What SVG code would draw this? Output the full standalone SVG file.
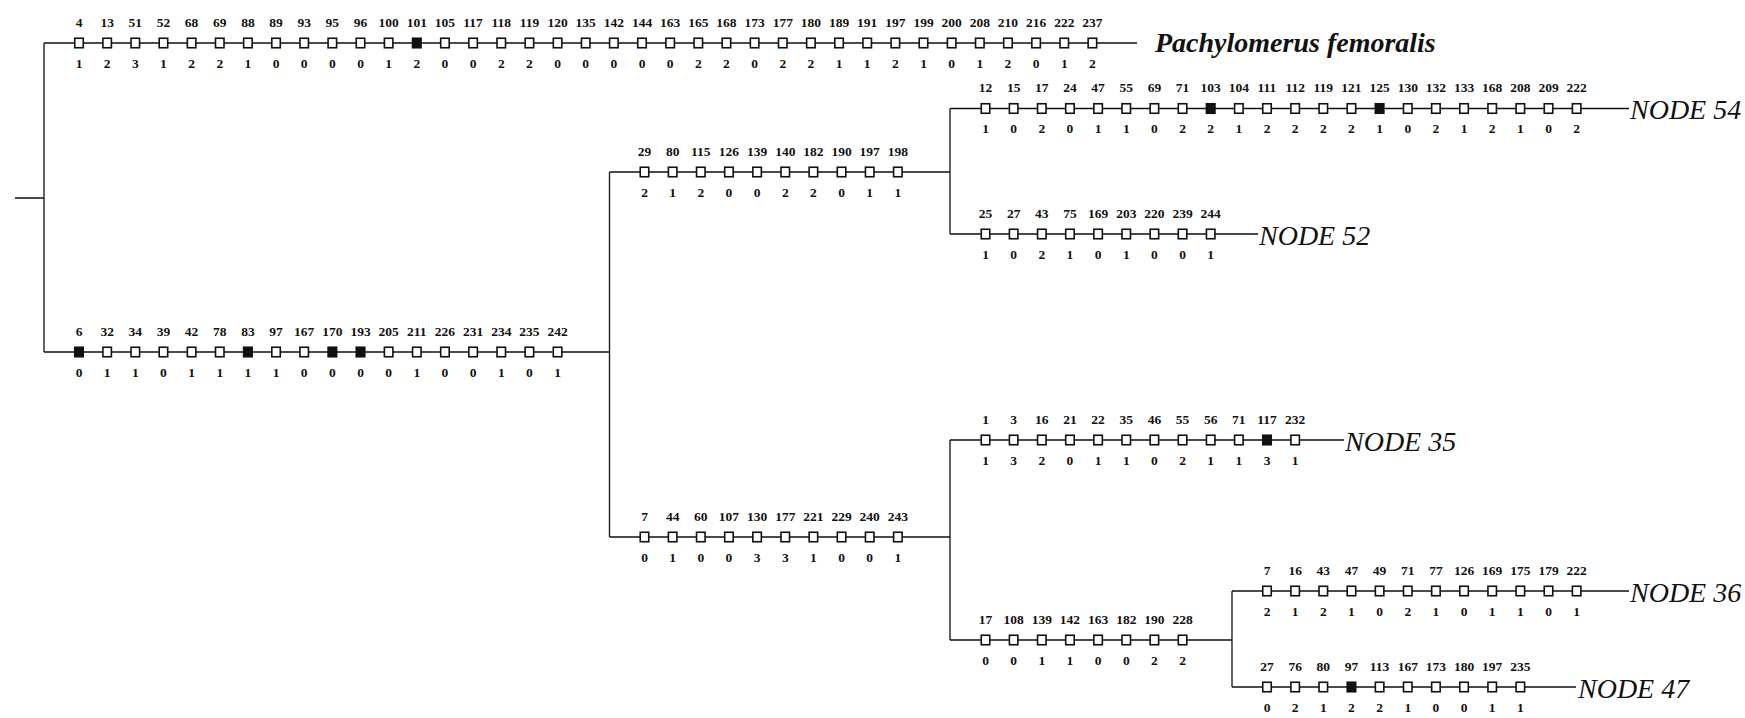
<svg xmlns="http://www.w3.org/2000/svg" xmlns:xlink="http://www.w3.org/1999/xlink" width="1745" height="718" viewBox="0 0 1745 718">
<style>
.c{stroke:#111;stroke-width:1.3;fill:none}
.l{font-family:"Liberation Serif","Times New Roman",serif;font-weight:bold;font-size:13.5px;fill:#111;text-anchor:middle}
.n{font-family:"Liberation Serif","Times New Roman",serif;font-style:italic;font-size:28px;fill:#111}
.p{font-weight:bold}
</style>
<defs>
<rect id="o" x="-4.25" y="-4.75" width="8.5" height="9.5" fill="#fff" stroke="#111" stroke-width="1.6"/>
<rect id="f" x="-4.25" y="-4.75" width="8.5" height="9.5" fill="#111" stroke="#111" stroke-width="1.6"/>
</defs>
<rect width="1745" height="718" fill="#fff"/>
<g id="connectors" class="c">
<path d="M15,198H44M44,43V352M44,43H1137M44,352H609.5M609.5,172V537M609.5,172H950M609.5,537H950M950,108.5V234M950,440V640M950,108.5H1629M950,234H1258M950,440H1344M950,640H1232M1232,591V687M1232,591H1629M1232,687H1576"/>
</g>
<g id="branch-pachylomerus">
<use xlink:href="#o" x="79" y="43"/><use xlink:href="#o" x="107.15" y="43"/><use xlink:href="#o" x="135.3" y="43"/><use xlink:href="#o" x="163.45" y="43"/><use xlink:href="#o" x="191.6" y="43"/><use xlink:href="#o" x="219.75" y="43"/><use xlink:href="#o" x="247.9" y="43"/><use xlink:href="#o" x="276.05" y="43"/><use xlink:href="#o" x="304.2" y="43"/><use xlink:href="#o" x="332.35" y="43"/><use xlink:href="#o" x="360.5" y="43"/><use xlink:href="#o" x="388.65" y="43"/><use xlink:href="#f" x="416.8" y="43"/><use xlink:href="#o" x="444.95" y="43"/><use xlink:href="#o" x="473.1" y="43"/><use xlink:href="#o" x="501.25" y="43"/><use xlink:href="#o" x="529.4" y="43"/><use xlink:href="#o" x="557.55" y="43"/><use xlink:href="#o" x="585.7" y="43"/><use xlink:href="#o" x="613.85" y="43"/><use xlink:href="#o" x="642" y="43"/><use xlink:href="#o" x="670.15" y="43"/><use xlink:href="#o" x="698.3" y="43"/><use xlink:href="#o" x="726.45" y="43"/><use xlink:href="#o" x="754.6" y="43"/><use xlink:href="#o" x="782.75" y="43"/><use xlink:href="#o" x="810.9" y="43"/><use xlink:href="#o" x="839.05" y="43"/><use xlink:href="#o" x="867.2" y="43"/><use xlink:href="#o" x="895.35" y="43"/><use xlink:href="#o" x="923.5" y="43"/><use xlink:href="#o" x="951.65" y="43"/><use xlink:href="#o" x="979.8" y="43"/><use xlink:href="#o" x="1007.95" y="43"/><use xlink:href="#o" x="1036.1" y="43"/><use xlink:href="#o" x="1064.25" y="43"/><use xlink:href="#o" x="1092.4" y="43"/>
<g class="l">
<text x="79" y="26.5">4</text><text x="107.15" y="26.5">13</text><text x="135.3" y="26.5">51</text><text x="163.45" y="26.5">52</text><text x="191.6" y="26.5">68</text><text x="219.75" y="26.5">69</text><text x="247.9" y="26.5">88</text><text x="276.05" y="26.5">89</text><text x="304.2" y="26.5">93</text><text x="332.35" y="26.5">95</text><text x="360.5" y="26.5">96</text><text x="388.65" y="26.5">100</text><text x="416.8" y="26.5">101</text><text x="444.95" y="26.5">105</text><text x="473.1" y="26.5">117</text><text x="501.25" y="26.5">118</text><text x="529.4" y="26.5">119</text><text x="557.55" y="26.5">120</text><text x="585.7" y="26.5">135</text><text x="613.85" y="26.5">142</text><text x="642" y="26.5">144</text><text x="670.15" y="26.5">163</text><text x="698.3" y="26.5">165</text><text x="726.45" y="26.5">168</text><text x="754.6" y="26.5">173</text><text x="782.75" y="26.5">177</text><text x="810.9" y="26.5">180</text><text x="839.05" y="26.5">189</text><text x="867.2" y="26.5">191</text><text x="895.35" y="26.5">197</text><text x="923.5" y="26.5">199</text><text x="951.65" y="26.5">200</text><text x="979.8" y="26.5">208</text><text x="1007.95" y="26.5">210</text><text x="1036.1" y="26.5">216</text><text x="1064.25" y="26.5">222</text><text x="1092.4" y="26.5">237</text>
<text x="79" y="67.5">1</text><text x="107.15" y="67.5">2</text><text x="135.3" y="67.5">3</text><text x="163.45" y="67.5">1</text><text x="191.6" y="67.5">2</text><text x="219.75" y="67.5">2</text><text x="247.9" y="67.5">1</text><text x="276.05" y="67.5">0</text><text x="304.2" y="67.5">0</text><text x="332.35" y="67.5">0</text><text x="360.5" y="67.5">0</text><text x="388.65" y="67.5">1</text><text x="416.8" y="67.5">2</text><text x="444.95" y="67.5">0</text><text x="473.1" y="67.5">0</text><text x="501.25" y="67.5">2</text><text x="529.4" y="67.5">2</text><text x="557.55" y="67.5">0</text><text x="585.7" y="67.5">0</text><text x="613.85" y="67.5">0</text><text x="642" y="67.5">0</text><text x="670.15" y="67.5">0</text><text x="698.3" y="67.5">2</text><text x="726.45" y="67.5">2</text><text x="754.6" y="67.5">0</text><text x="782.75" y="67.5">2</text><text x="810.9" y="67.5">2</text><text x="839.05" y="67.5">1</text><text x="867.2" y="67.5">1</text><text x="895.35" y="67.5">2</text><text x="923.5" y="67.5">1</text><text x="951.65" y="67.5">0</text><text x="979.8" y="67.5">1</text><text x="1007.95" y="67.5">2</text><text x="1036.1" y="67.5">0</text><text x="1064.25" y="67.5">1</text><text x="1092.4" y="67.5">2</text>
</g>
</g>
<g id="taxon-pachylomerus"><text class="n p" x="1155" y="52">Pachylomerus femoralis</text></g>
<g id="branch-6">
<use xlink:href="#f" x="79" y="352"/><use xlink:href="#o" x="107.15" y="352"/><use xlink:href="#o" x="135.3" y="352"/><use xlink:href="#o" x="163.45" y="352"/><use xlink:href="#o" x="191.6" y="352"/><use xlink:href="#o" x="219.75" y="352"/><use xlink:href="#f" x="247.9" y="352"/><use xlink:href="#o" x="276.05" y="352"/><use xlink:href="#o" x="304.2" y="352"/><use xlink:href="#f" x="332.35" y="352"/><use xlink:href="#f" x="360.5" y="352"/><use xlink:href="#o" x="388.65" y="352"/><use xlink:href="#o" x="416.8" y="352"/><use xlink:href="#o" x="444.95" y="352"/><use xlink:href="#o" x="473.1" y="352"/><use xlink:href="#o" x="501.25" y="352"/><use xlink:href="#o" x="529.4" y="352"/><use xlink:href="#o" x="557.55" y="352"/>
<g class="l">
<text x="79" y="335.5">6</text><text x="107.15" y="335.5">32</text><text x="135.3" y="335.5">34</text><text x="163.45" y="335.5">39</text><text x="191.6" y="335.5">42</text><text x="219.75" y="335.5">78</text><text x="247.9" y="335.5">83</text><text x="276.05" y="335.5">97</text><text x="304.2" y="335.5">167</text><text x="332.35" y="335.5">170</text><text x="360.5" y="335.5">193</text><text x="388.65" y="335.5">205</text><text x="416.8" y="335.5">211</text><text x="444.95" y="335.5">226</text><text x="473.1" y="335.5">231</text><text x="501.25" y="335.5">234</text><text x="529.4" y="335.5">235</text><text x="557.55" y="335.5">242</text>
<text x="79" y="376.5">0</text><text x="107.15" y="376.5">1</text><text x="135.3" y="376.5">1</text><text x="163.45" y="376.5">0</text><text x="191.6" y="376.5">1</text><text x="219.75" y="376.5">1</text><text x="247.9" y="376.5">1</text><text x="276.05" y="376.5">1</text><text x="304.2" y="376.5">0</text><text x="332.35" y="376.5">0</text><text x="360.5" y="376.5">0</text><text x="388.65" y="376.5">0</text><text x="416.8" y="376.5">1</text><text x="444.95" y="376.5">0</text><text x="473.1" y="376.5">0</text><text x="501.25" y="376.5">1</text><text x="529.4" y="376.5">0</text><text x="557.55" y="376.5">1</text>
</g>
</g>
<g id="branch-29">
<use xlink:href="#o" x="644.5" y="172"/><use xlink:href="#o" x="672.65" y="172"/><use xlink:href="#o" x="700.8" y="172"/><use xlink:href="#o" x="728.95" y="172"/><use xlink:href="#o" x="757.1" y="172"/><use xlink:href="#o" x="785.25" y="172"/><use xlink:href="#o" x="813.4" y="172"/><use xlink:href="#o" x="841.55" y="172"/><use xlink:href="#o" x="869.7" y="172"/><use xlink:href="#o" x="897.85" y="172"/>
<g class="l">
<text x="644.5" y="155.5">29</text><text x="672.65" y="155.5">80</text><text x="700.8" y="155.5">115</text><text x="728.95" y="155.5">126</text><text x="757.1" y="155.5">139</text><text x="785.25" y="155.5">140</text><text x="813.4" y="155.5">182</text><text x="841.55" y="155.5">190</text><text x="869.7" y="155.5">197</text><text x="897.85" y="155.5">198</text>
<text x="644.5" y="196.5">2</text><text x="672.65" y="196.5">1</text><text x="700.8" y="196.5">2</text><text x="728.95" y="196.5">0</text><text x="757.1" y="196.5">0</text><text x="785.25" y="196.5">2</text><text x="813.4" y="196.5">2</text><text x="841.55" y="196.5">0</text><text x="869.7" y="196.5">1</text><text x="897.85" y="196.5">1</text>
</g>
</g>
<g id="branch-7">
<use xlink:href="#o" x="644.5" y="537"/><use xlink:href="#o" x="672.65" y="537"/><use xlink:href="#o" x="700.8" y="537"/><use xlink:href="#o" x="728.95" y="537"/><use xlink:href="#o" x="757.1" y="537"/><use xlink:href="#o" x="785.25" y="537"/><use xlink:href="#o" x="813.4" y="537"/><use xlink:href="#o" x="841.55" y="537"/><use xlink:href="#o" x="869.7" y="537"/><use xlink:href="#o" x="897.85" y="537"/>
<g class="l">
<text x="644.5" y="520.5">7</text><text x="672.65" y="520.5">44</text><text x="700.8" y="520.5">60</text><text x="728.95" y="520.5">107</text><text x="757.1" y="520.5">130</text><text x="785.25" y="520.5">177</text><text x="813.4" y="520.5">221</text><text x="841.55" y="520.5">229</text><text x="869.7" y="520.5">240</text><text x="897.85" y="520.5">243</text>
<text x="644.5" y="561.5">0</text><text x="672.65" y="561.5">1</text><text x="700.8" y="561.5">0</text><text x="728.95" y="561.5">0</text><text x="757.1" y="561.5">3</text><text x="785.25" y="561.5">3</text><text x="813.4" y="561.5">1</text><text x="841.55" y="561.5">0</text><text x="869.7" y="561.5">0</text><text x="897.85" y="561.5">1</text>
</g>
</g>
<g id="branch-node54">
<use xlink:href="#o" x="985.5" y="108.5"/><use xlink:href="#o" x="1013.65" y="108.5"/><use xlink:href="#o" x="1041.8" y="108.5"/><use xlink:href="#o" x="1069.95" y="108.5"/><use xlink:href="#o" x="1098.1" y="108.5"/><use xlink:href="#o" x="1126.25" y="108.5"/><use xlink:href="#o" x="1154.4" y="108.5"/><use xlink:href="#o" x="1182.55" y="108.5"/><use xlink:href="#f" x="1210.7" y="108.5"/><use xlink:href="#o" x="1238.85" y="108.5"/><use xlink:href="#o" x="1267" y="108.5"/><use xlink:href="#o" x="1295.15" y="108.5"/><use xlink:href="#o" x="1323.3" y="108.5"/><use xlink:href="#o" x="1351.45" y="108.5"/><use xlink:href="#f" x="1379.6" y="108.5"/><use xlink:href="#o" x="1407.75" y="108.5"/><use xlink:href="#o" x="1435.9" y="108.5"/><use xlink:href="#o" x="1464.05" y="108.5"/><use xlink:href="#o" x="1492.2" y="108.5"/><use xlink:href="#o" x="1520.35" y="108.5"/><use xlink:href="#o" x="1548.5" y="108.5"/><use xlink:href="#o" x="1576.65" y="108.5"/>
<g class="l">
<text x="985.5" y="92">12</text><text x="1013.65" y="92">15</text><text x="1041.8" y="92">17</text><text x="1069.95" y="92">24</text><text x="1098.1" y="92">47</text><text x="1126.25" y="92">55</text><text x="1154.4" y="92">69</text><text x="1182.55" y="92">71</text><text x="1210.7" y="92">103</text><text x="1238.85" y="92">104</text><text x="1267" y="92">111</text><text x="1295.15" y="92">112</text><text x="1323.3" y="92">119</text><text x="1351.45" y="92">121</text><text x="1379.6" y="92">125</text><text x="1407.75" y="92">130</text><text x="1435.9" y="92">132</text><text x="1464.05" y="92">133</text><text x="1492.2" y="92">168</text><text x="1520.35" y="92">208</text><text x="1548.5" y="92">209</text><text x="1576.65" y="92">222</text>
<text x="985.5" y="133">1</text><text x="1013.65" y="133">0</text><text x="1041.8" y="133">2</text><text x="1069.95" y="133">0</text><text x="1098.1" y="133">1</text><text x="1126.25" y="133">1</text><text x="1154.4" y="133">0</text><text x="1182.55" y="133">2</text><text x="1210.7" y="133">2</text><text x="1238.85" y="133">1</text><text x="1267" y="133">2</text><text x="1295.15" y="133">2</text><text x="1323.3" y="133">2</text><text x="1351.45" y="133">2</text><text x="1379.6" y="133">1</text><text x="1407.75" y="133">0</text><text x="1435.9" y="133">2</text><text x="1464.05" y="133">1</text><text x="1492.2" y="133">2</text><text x="1520.35" y="133">1</text><text x="1548.5" y="133">0</text><text x="1576.65" y="133">2</text>
</g>
</g>
<g id="node54"><text class="n" x="1630" y="119">NODE 54</text></g>
<g id="branch-node52">
<use xlink:href="#o" x="985.5" y="234"/><use xlink:href="#o" x="1013.65" y="234"/><use xlink:href="#o" x="1041.8" y="234"/><use xlink:href="#o" x="1069.95" y="234"/><use xlink:href="#o" x="1098.1" y="234"/><use xlink:href="#o" x="1126.25" y="234"/><use xlink:href="#o" x="1154.4" y="234"/><use xlink:href="#o" x="1182.55" y="234"/><use xlink:href="#o" x="1210.7" y="234"/>
<g class="l">
<text x="985.5" y="217.5">25</text><text x="1013.65" y="217.5">27</text><text x="1041.8" y="217.5">43</text><text x="1069.95" y="217.5">75</text><text x="1098.1" y="217.5">169</text><text x="1126.25" y="217.5">203</text><text x="1154.4" y="217.5">220</text><text x="1182.55" y="217.5">239</text><text x="1210.7" y="217.5">244</text>
<text x="985.5" y="258.5">1</text><text x="1013.65" y="258.5">0</text><text x="1041.8" y="258.5">2</text><text x="1069.95" y="258.5">1</text><text x="1098.1" y="258.5">0</text><text x="1126.25" y="258.5">1</text><text x="1154.4" y="258.5">0</text><text x="1182.55" y="258.5">0</text><text x="1210.7" y="258.5">1</text>
</g>
</g>
<g id="node52"><text class="n" x="1259" y="244.5">NODE 52</text></g>
<g id="branch-node35">
<use xlink:href="#o" x="985.5" y="440"/><use xlink:href="#o" x="1013.65" y="440"/><use xlink:href="#o" x="1041.8" y="440"/><use xlink:href="#o" x="1069.95" y="440"/><use xlink:href="#o" x="1098.1" y="440"/><use xlink:href="#o" x="1126.25" y="440"/><use xlink:href="#o" x="1154.4" y="440"/><use xlink:href="#o" x="1182.55" y="440"/><use xlink:href="#o" x="1210.7" y="440"/><use xlink:href="#o" x="1238.85" y="440"/><use xlink:href="#f" x="1267" y="440"/><use xlink:href="#o" x="1295.15" y="440"/>
<g class="l">
<text x="985.5" y="423.5">1</text><text x="1013.65" y="423.5">3</text><text x="1041.8" y="423.5">16</text><text x="1069.95" y="423.5">21</text><text x="1098.1" y="423.5">22</text><text x="1126.25" y="423.5">35</text><text x="1154.4" y="423.5">46</text><text x="1182.55" y="423.5">55</text><text x="1210.7" y="423.5">56</text><text x="1238.85" y="423.5">71</text><text x="1267" y="423.5">117</text><text x="1295.15" y="423.5">232</text>
<text x="985.5" y="464.5">1</text><text x="1013.65" y="464.5">3</text><text x="1041.8" y="464.5">2</text><text x="1069.95" y="464.5">0</text><text x="1098.1" y="464.5">1</text><text x="1126.25" y="464.5">1</text><text x="1154.4" y="464.5">0</text><text x="1182.55" y="464.5">2</text><text x="1210.7" y="464.5">1</text><text x="1238.85" y="464.5">1</text><text x="1267" y="464.5">3</text><text x="1295.15" y="464.5">1</text>
</g>
</g>
<g id="node35"><text class="n" x="1345" y="450.5">NODE 35</text></g>
<g id="branch-17">
<use xlink:href="#o" x="985.5" y="640"/><use xlink:href="#o" x="1013.65" y="640"/><use xlink:href="#o" x="1041.8" y="640"/><use xlink:href="#o" x="1069.95" y="640"/><use xlink:href="#o" x="1098.1" y="640"/><use xlink:href="#o" x="1126.25" y="640"/><use xlink:href="#o" x="1154.4" y="640"/><use xlink:href="#o" x="1182.55" y="640"/>
<g class="l">
<text x="985.5" y="623.5">17</text><text x="1013.65" y="623.5">108</text><text x="1041.8" y="623.5">139</text><text x="1069.95" y="623.5">142</text><text x="1098.1" y="623.5">163</text><text x="1126.25" y="623.5">182</text><text x="1154.4" y="623.5">190</text><text x="1182.55" y="623.5">228</text>
<text x="985.5" y="664.5">0</text><text x="1013.65" y="664.5">0</text><text x="1041.8" y="664.5">1</text><text x="1069.95" y="664.5">1</text><text x="1098.1" y="664.5">0</text><text x="1126.25" y="664.5">0</text><text x="1154.4" y="664.5">2</text><text x="1182.55" y="664.5">2</text>
</g>
</g>
<g id="branch-node36">
<use xlink:href="#o" x="1267" y="591"/><use xlink:href="#o" x="1295.15" y="591"/><use xlink:href="#o" x="1323.3" y="591"/><use xlink:href="#o" x="1351.45" y="591"/><use xlink:href="#o" x="1379.6" y="591"/><use xlink:href="#o" x="1407.75" y="591"/><use xlink:href="#o" x="1435.9" y="591"/><use xlink:href="#o" x="1464.05" y="591"/><use xlink:href="#o" x="1492.2" y="591"/><use xlink:href="#o" x="1520.35" y="591"/><use xlink:href="#o" x="1548.5" y="591"/><use xlink:href="#o" x="1576.65" y="591"/>
<g class="l">
<text x="1267" y="574.5">7</text><text x="1295.15" y="574.5">16</text><text x="1323.3" y="574.5">43</text><text x="1351.45" y="574.5">47</text><text x="1379.6" y="574.5">49</text><text x="1407.75" y="574.5">71</text><text x="1435.9" y="574.5">77</text><text x="1464.05" y="574.5">126</text><text x="1492.2" y="574.5">169</text><text x="1520.35" y="574.5">175</text><text x="1548.5" y="574.5">179</text><text x="1576.65" y="574.5">222</text>
<text x="1267" y="615.5">2</text><text x="1295.15" y="615.5">1</text><text x="1323.3" y="615.5">2</text><text x="1351.45" y="615.5">1</text><text x="1379.6" y="615.5">0</text><text x="1407.75" y="615.5">2</text><text x="1435.9" y="615.5">1</text><text x="1464.05" y="615.5">0</text><text x="1492.2" y="615.5">1</text><text x="1520.35" y="615.5">1</text><text x="1548.5" y="615.5">0</text><text x="1576.65" y="615.5">1</text>
</g>
</g>
<g id="node36"><text class="n" x="1630" y="601.5">NODE 36</text></g>
<g id="branch-node47">
<use xlink:href="#o" x="1267" y="687"/><use xlink:href="#o" x="1295.15" y="687"/><use xlink:href="#o" x="1323.3" y="687"/><use xlink:href="#f" x="1351.45" y="687"/><use xlink:href="#o" x="1379.6" y="687"/><use xlink:href="#o" x="1407.75" y="687"/><use xlink:href="#o" x="1435.9" y="687"/><use xlink:href="#o" x="1464.05" y="687"/><use xlink:href="#o" x="1492.2" y="687"/><use xlink:href="#o" x="1520.35" y="687"/>
<g class="l">
<text x="1267" y="670.5">27</text><text x="1295.15" y="670.5">76</text><text x="1323.3" y="670.5">80</text><text x="1351.45" y="670.5">97</text><text x="1379.6" y="670.5">113</text><text x="1407.75" y="670.5">167</text><text x="1435.9" y="670.5">173</text><text x="1464.05" y="670.5">180</text><text x="1492.2" y="670.5">197</text><text x="1520.35" y="670.5">235</text>
<text x="1267" y="711.5">0</text><text x="1295.15" y="711.5">2</text><text x="1323.3" y="711.5">1</text><text x="1351.45" y="711.5">2</text><text x="1379.6" y="711.5">2</text><text x="1407.75" y="711.5">1</text><text x="1435.9" y="711.5">0</text><text x="1464.05" y="711.5">0</text><text x="1492.2" y="711.5">1</text><text x="1520.35" y="711.5">1</text>
</g>
</g>
<g id="node47"><text class="n" x="1578" y="697.5">NODE 47</text></g>
</svg>
